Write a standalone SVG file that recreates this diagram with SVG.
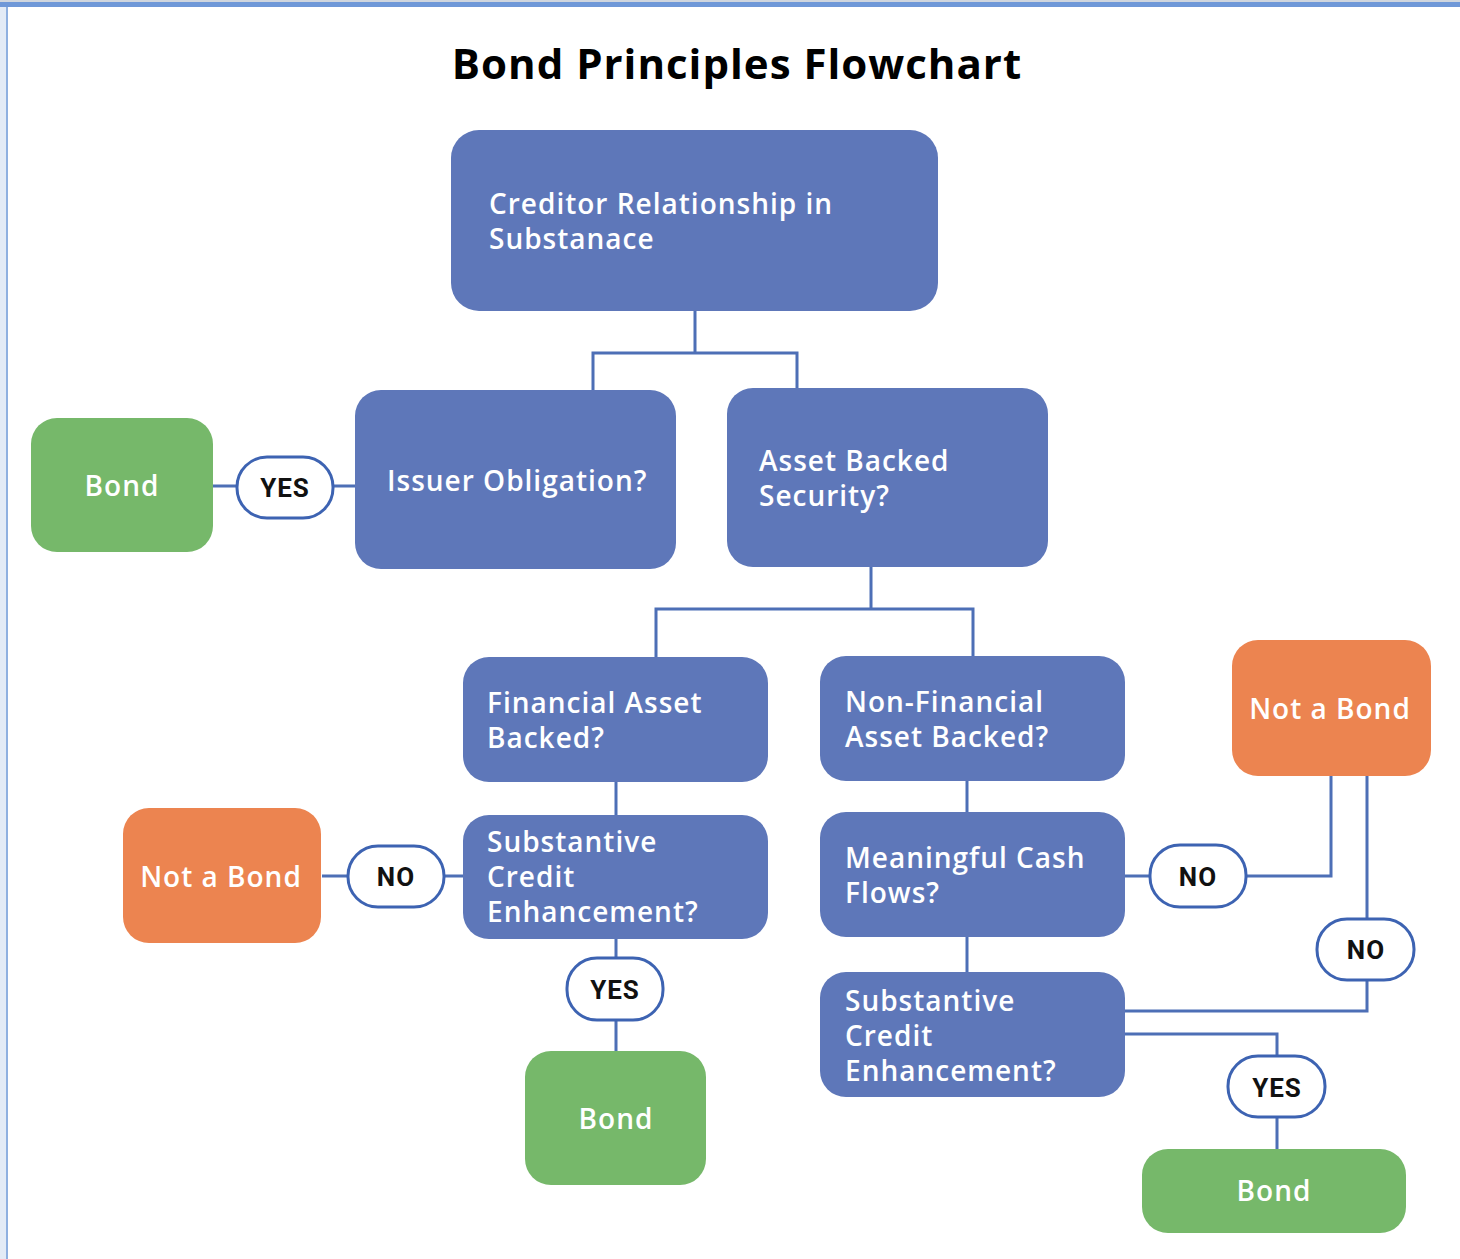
<svg xmlns="http://www.w3.org/2000/svg" width="1460" height="1259" viewBox="0 0 1460 1259">
<style>
.q{fill:#5e77b9}
.g{fill:#76b86a}
.o{fill:#ec8450}
.t{font-family:"Open Sans","Noto Sans",sans-serif;font-weight:600;font-size:28px;letter-spacing:1px;fill:#ffffff}
.c{text-anchor:middle}
.pill{fill:#ffffff;stroke:#3d63b2;stroke-width:3}
.pt{font-family:"Roboto","Liberation Sans",sans-serif;font-weight:700;font-size:26px;letter-spacing:1px;fill:#111111;text-anchor:middle}
.ln{fill:none;stroke:#4d6fb6;stroke-width:3}
</style>
<rect x="0" y="0" width="1460" height="1259" fill="#ffffff"/>
<rect x="0" y="0" width="7" height="1259" fill="#e3ebf6"/>
<rect x="6" y="0" width="2" height="1259" fill="#8fb0e0"/>
<rect x="0" y="0" width="1460" height="2" fill="#d0d6de"/>
<rect x="0" y="2" width="1460" height="5" fill="#6f98d8"/>
<text x="737" y="79" text-anchor="middle" font-family="'Open Sans','Noto Sans',sans-serif" font-weight="700" font-size="42" letter-spacing="1" fill="#000000">Bond Principles Flowchart</text>
<g id="connectors">
<path class="ln" d="M695,311 V353 M593,390 V353 H797 V388"/>
<path class="ln" d="M213,486 H237 M333,486 H355"/>
<path class="ln" d="M871,567 V609 M656,657 V609 H973 V656"/>
<path class="ln" d="M616,782 V815"/>
<path class="ln" d="M322,876 H348 M444,876 H463"/>
<path class="ln" d="M616,939 V958 M616,1020 V1051"/>
<path class="ln" d="M967,781 V812"/>
<path class="ln" d="M1125,876 H1150 M1246,876 H1331 V776"/>
<path class="ln" d="M1367,776 V919 M1367,980 V1011 H1125"/>
<path class="ln" d="M967,937 V972"/>
<path class="ln" d="M1125,1034 H1277 V1056 M1277,1117 V1149"/>
</g>
<g id="root"><rect class="q" x="451" y="130" width="487" height="181" rx="28"/><text class="t" x="489" y="214">Creditor Relationship in</text><text class="t" x="489" y="249">Substanace</text></g>
<g id="issuer"><rect class="q" x="355" y="390" width="321" height="179" rx="26"/><text class="t" x="387" y="491">Issuer Obligation?</text></g>
<g id="abs"><rect class="q" x="727" y="388" width="321" height="179" rx="26"/><text class="t" x="759" y="471">Asset Backed</text><text class="t" x="759" y="506">Security?</text></g>
<g id="bond1"><rect class="g" x="31" y="418" width="182" height="134" rx="26"/><text class="t c" x="122" y="496">Bond</text></g>
<g id="yes1"><rect class="pill" x="237" y="457" width="96" height="61" rx="30"/><text class="pt" x="285" y="497">YES</text></g>
<g id="fin"><rect class="q" x="463" y="657" width="305" height="125" rx="26"/><text class="t" x="487" y="713">Financial Asset</text><text class="t" x="487" y="748">Backed?</text></g>
<g id="nonfin"><rect class="q" x="820" y="656" width="305" height="125" rx="26"/><text class="t" x="845" y="712">Non-Financial</text><text class="t" x="845" y="747">Asset Backed?</text></g>
<g id="sce1"><rect class="q" x="463" y="815" width="305" height="124" rx="26"/><text class="t" x="487" y="852">Substantive</text><text class="t" x="487" y="887">Credit</text><text class="t" x="487" y="922">Enhancement?</text></g>
<g id="no1"><rect class="pill" x="348" y="846" width="96" height="61" rx="30"/><text class="pt" x="396" y="886">NO</text></g>
<g id="notbond1"><rect class="o" x="123" y="808" width="198" height="135" rx="26"/><text class="t c" x="221" y="887">Not a Bond</text></g>
<g id="yes2"><rect class="pill" x="567" y="958" width="96" height="62" rx="30"/><text class="pt" x="615" y="999">YES</text></g>
<g id="bond2"><rect class="g" x="525" y="1051" width="181" height="134" rx="26"/><text class="t c" x="616" y="1129">Bond</text></g>
<g id="mcf"><rect class="q" x="820" y="812" width="305" height="125" rx="26"/><text class="t" x="845" y="868">Meaningful Cash</text><text class="t" x="845" y="903">Flows?</text></g>
<g id="no2"><rect class="pill" x="1150" y="845" width="96" height="62" rx="30"/><text class="pt" x="1198" y="886">NO</text></g>
<g id="notbond2"><rect class="o" x="1232" y="640" width="199" height="136" rx="26"/><text class="t c" x="1330" y="719">Not a Bond</text></g>
<g id="no3"><rect class="pill" x="1317" y="919" width="97" height="61" rx="30"/><text class="pt" x="1366" y="959">NO</text></g>
<g id="sce2"><rect class="q" x="820" y="972" width="305" height="125" rx="26"/><text class="t" x="845" y="1011">Substantive</text><text class="t" x="845" y="1046">Credit</text><text class="t" x="845" y="1081">Enhancement?</text></g>
<g id="yes3"><rect class="pill" x="1228" y="1056" width="97" height="61" rx="30"/><text class="pt" x="1277" y="1097">YES</text></g>
<g id="bond3"><rect class="g" x="1142" y="1149" width="264" height="84" rx="26"/><text class="t c" x="1274" y="1201">Bond</text></g>
</svg>
